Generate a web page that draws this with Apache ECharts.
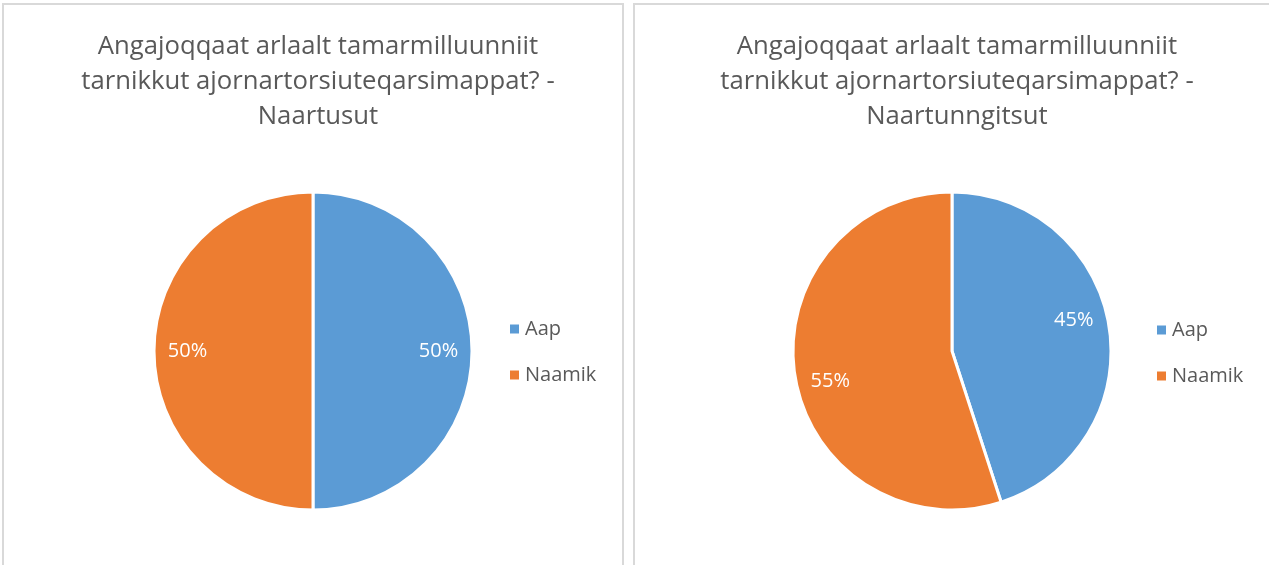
<!DOCTYPE html>
<html>
<head>
<meta charset="utf-8">
<script src="https://cdn.jsdelivr.net/npm/echarts@6/dist/echarts.min.js"></script>
<style>
  html, body { margin: 0; padding: 0; background: #fff; }
  #chart { width: 1269px; height: 565px; }
</style>
</head>
<body>
<div id="chart"></div>
<script>
// Survey answers, shares in percent
const categories = ['Aap', 'Naamik'];
const naartusut = [50, 50];
const naartunngitsut = [45, 55];
const titleLeft = 'Angajoqqaat arlaalt tamarmilluunniit\ntarnikkut ajornartorsiuteqarsimappat? -\nNaartusut';
const titleRight = 'Angajoqqaat arlaalt tamarmilluunniit\ntarnikkut ajornartorsiuteqarsimappat? -\nNaartunngitsut';

const colors = ['#5B9BD5', '#ED7D31'];
const textGrey = '#595959';
const font = '"Open Sans", sans-serif';

const toData = vals => categories.map((c, i) => ({ name: c, value: vals[i] }));

const R = 159;

function piePlot(center, vals) {
  return {
    type: 'pie',
    center: center,
    radius: [0, R],
    startAngle: 90,
    clockwise: true,
    animation: false,
    label: { show: false },
    labelLine: { show: false },
    itemStyle: { borderColor: '#fff', borderWidth: 3 },
    emphasis: { disabled: true },
    data: toData(vals)
  };
}

// transparent ring that only carries the percentage labels
function pieLabels(center, vals, start) {
  return {
    type: 'pie',
    center: center,
    radius: [86, R],
    startAngle: start,
    clockwise: true,
    animation: false,
    silent: true,
    itemStyle: { color: 'rgba(0,0,0,0)' },
    label: {
      show: true,
      position: 'inside',
      formatter: p => p.value + '%',
      color: '#fff',
      fontFamily: font,
      fontSize: 20
    },
    labelLine: { show: false },
    emphasis: { disabled: true },
    data: toData(vals)
  };
}

const titleStyle = { color: textGrey, fontFamily: font, fontSize: 25.7, fontWeight: 'normal', lineHeight: 35 };
const legendBase = {
  orient: 'vertical',
  icon: 'rect',
  itemWidth: 9,
  itemHeight: 9,
  itemGap: 26,
  selectedMode: false,
  itemStyle: { borderWidth: 0 },
  textStyle: { color: textGrey, fontFamily: font, fontSize: 20, lineHeight: 20, padding: [0, 0, 0, 1] },
  data: categories
};

const chart = echarts.init(document.getElementById('chart'), null, { renderer: 'canvas' });
chart.setOption({
  color: colors,
  backgroundColor: '#fff',
  graphic: [
    { type: 'rect', shape: { x: 3, y: 4, width: 620, height: 600 }, style: { fill: '#fff', stroke: '#d9d9d9', lineWidth: 2 }, z: -10 },
    { type: 'rect', shape: { x: 634, y: 4, width: 700, height: 600 }, style: { fill: '#fff', stroke: '#d9d9d9', lineWidth: 2 }, z: -10 }
  ],
  title: [
    { text: titleLeft, left: 313, top: 24, textAlign: 'center', textStyle: titleStyle },
    { text: titleRight, left: 952, top: 24, textAlign: 'center', textStyle: titleStyle }
  ],
  legend: [
    Object.assign({ left: 505, top: 314 }, legendBase),
    Object.assign({ left: 1152, top: 315 }, legendBase)
  ],
  series: [
    piePlot([313, 351], naartusut),
    piePlot([952, 351], naartunngitsut),
    pieLabels([313, 351], naartusut, 90),
    pieLabels([952, 351], naartunngitsut, 95)
  ]
});
</script>
</body>
</html>
